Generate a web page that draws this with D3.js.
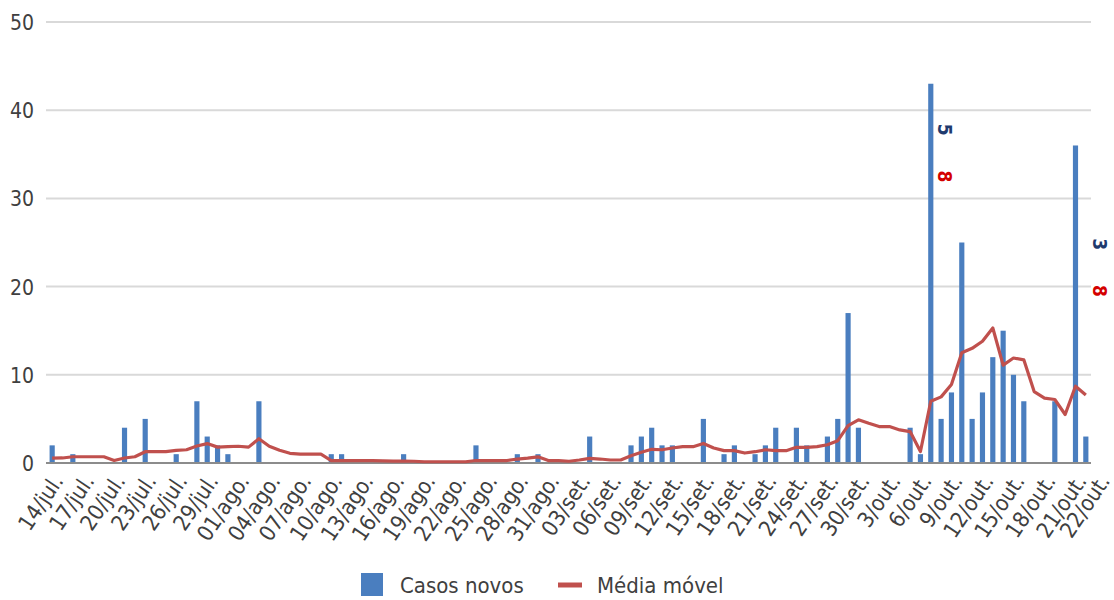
<!DOCTYPE html>
<html>
<head>
<meta charset="utf-8">
<script src="https://cdn.jsdelivr.net/npm/d3@7"></script>
<style>
  html, body { margin: 0; padding: 0; background: #ffffff; }
  svg { display: block; }
  text { font-family: "DejaVu Sans Condensed", "DejaVu Sans", sans-serif; }
</style>
</head>
<body>
<svg id="chart" width="1114" height="600"></svg>
<script>
// Daily new cases, 14/jul to 22/out (one value per day)
const casosNovos = [
  2, 0, 1, 0, 0, 0, 0, 4, 0, 5,
  0, 0, 1, 0, 7, 3, 2, 1, 0, 0,
  7, 0, 0, 0, 0, 0, 0, 1, 1, 0,
  0, 0, 0, 0, 1, 0, 0, 0, 0, 0,
  0, 2, 0, 0, 0, 1, 0, 1, 0, 0,
  0, 0, 3, 0, 0, 0, 2, 3, 4, 2,
  2, 0, 0, 5, 0, 1, 2, 0, 1, 2,
  4, 0, 4, 2, 0, 3, 5, 17, 4, 0,
  0, 0, 0, 4, 1, 43, 5, 8, 25, 5,
  8, 12, 15, 10, 7, 0, 0, 7, 0, 36,
  3
];

// Moving average, same days
const mediaMovel = [
  0.55, 0.57, 0.71, 0.71, 0.71, 0.71, 0.29, 0.57, 0.71, 1.28,
  1.28, 1.28, 1.43, 1.5, 1.93, 2.2, 1.8, 1.85, 1.9, 1.8,
  2.75, 1.9, 1.45, 1.1, 1.0, 1.0, 1.0, 0.28, 0.28, 0.28,
  0.28, 0.28, 0.25, 0.22, 0.22, 0.2, 0.14, 0.14, 0.14, 0.14,
  0.14, 0.28, 0.28, 0.28, 0.28, 0.45, 0.55, 0.7, 0.28, 0.28,
  0.2, 0.34, 0.53, 0.45, 0.34, 0.34, 0.83, 1.21, 1.55, 1.5,
  1.7, 1.85, 1.85, 2.22, 1.7, 1.4, 1.4, 1.13, 1.28, 1.5,
  1.4, 1.4, 1.78, 1.78, 1.85, 2.07, 2.53, 4.23, 4.9, 4.5,
  4.13, 4.13, 3.75, 3.56, 1.3, 7.0, 7.5, 8.9, 12.5, 13.0,
  13.8, 15.3, 11.1, 11.9, 11.7, 8.1, 7.35, 7.2, 5.5, 8.7,
  7.7
];

// Days with no report (gap in the bars)
const semDados = [79, 80, 81, 82];

// Category axis labels (every third day plus the last day)
const tickDays = [0, 3, 6, 9, 12, 15, 18, 21, 24, 27, 30, 33, 36, 39, 42, 45, 48,
  51, 54, 57, 60, 63, 66, 69, 72, 75, 78, 81, 84, 87, 90, 93, 96, 99, 100];
const tickLabels = ["14/jul.", "17/jul.", "20/jul.", "23/jul.", "26/jul.", "29/jul.",
  "01/ago.", "04/ago.", "07/ago.", "10/ago.", "13/ago.", "16/ago.", "19/ago.", "22/ago.",
  "25/ago.", "28/ago.", "31/ago.", "03/set.", "06/set.", "09/set.", "12/set.", "15/set.",
  "18/set.", "21/set.", "24/set.", "27/set.", "30/set.", "3/out.", "6/out.", "9/out.",
  "12/out.", "15/out.", "18/out.", "21/out.", "22/out."];

const yTicks = [0, 10, 20, 30, 40, 50];

// Stray rotated data labels near the two tallest bars
const notes = [
  { day: 85, value: 37.8, text: "5", color: "#1f3a6e" },
  { day: 85, value: 32.5, text: "8", color: "#d40000" },
  { day: 100, value: 24.8, text: "3", color: "#1f3a6e" },
  { day: 100, value: 19.5, text: "8", color: "#d40000" }
];

const seriesNames = ["Casos novos", "Média móvel"];

(function drawChart() {
  const svg = d3.select("#chart");
  const plotLeft = 47, plotRight = 1091, plotTop = 22, plotBottom = 463;

  const x = d3.scaleBand()
    .domain(d3.range(casosNovos.length))
    .range([plotLeft, plotRight])
    .paddingInner(0.5)
    .paddingOuter(0.25);
  const cx = d => x(d) + x.bandwidth() / 2;

  const y = d3.scaleLinear().domain([0, 50]).range([plotBottom, plotTop]);

  const textColor = "#404040";
  const fontStack = '"DejaVu Sans Condensed", "DejaVu Sans", sans-serif';

  // Horizontal gridlines
  svg.append("g")
    .selectAll("line")
    .data(yTicks.filter(t => t > 0))
    .join("line")
    .attr("x1", plotLeft - 1).attr("x2", plotRight)
    .attr("y1", d => y(d)).attr("y2", d => y(d))
    .attr("stroke", "#d9d9d9").attr("stroke-width", 2);

  // Y axis labels
  const yAxis = d3.axisLeft(y).tickValues(yTicks).tickSize(0).tickPadding(0);
  svg.append("g")
    .attr("transform", `translate(${plotLeft - 13},0)`)
    .call(yAxis)
    .call(g => g.select(".domain").remove())
    .call(g => g.selectAll("text")
      .attr("font-size", 21)
      .attr("fill", textColor)
      .attr("dy", "0.36em")
      .attr("font-family", fontStack));

  // Bars
  svg.append("g")
    .selectAll("rect")
    .data(casosNovos.map((v, i) => ({ i, v })).filter(d => d.v > 0 && !semDados.includes(d.i)))
    .join("rect")
    .attr("x", d => x(d.i))
    .attr("width", x.bandwidth())
    .attr("y", d => y(d.v))
    .attr("height", d => y(0) - y(d.v))
    .attr("fill", "#4a7ebf");

  // Baseline
  svg.append("line")
    .attr("x1", plotLeft - 1).attr("x2", plotRight)
    .attr("y1", y(0)).attr("y2", y(0))
    .attr("stroke", "#8c8c8c").attr("stroke-width", 2);

  // Moving average line
  const line = d3.line()
    .x((d, i) => cx(i))
    .y(d => y(d));
  svg.append("path")
    .datum(mediaMovel)
    .attr("d", line)
    .attr("fill", "none")
    .attr("stroke", "#c0504d")
    .attr("stroke-width", 3.2)
    .attr("stroke-linejoin", "round");

  // Category axis; the final label is nudged right so it clears its neighbour
  const xAxis = d3.axisBottom(x)
    .tickValues(tickDays)
    .tickFormat((d, i) => tickLabels[i])
    .tickSize(0)
    .tickPadding(0);
  const lastDay = tickDays[tickDays.length - 1];
  svg.append("g")
    .attr("transform", `translate(0,${plotBottom})`)
    .call(xAxis)
    .call(g => g.select(".domain").remove())
    .call(g => g.selectAll(".tick text")
      .attr("font-size", 22)
      .attr("fill", textColor)
      .attr("text-anchor", "end")
      .attr("dy", 0)
      .attr("transform", d => `translate(${d === lastDay ? 25 : 12},18) rotate(-56)`)
      .attr("font-family", fontStack));

  // Rotated data labels
  svg.append("g")
    .selectAll("text")
    .data(notes)
    .join("text")
    .attr("transform", d => `translate(${cx(d.day) + 7},${y(d.value)}) rotate(90)`)
    .attr("text-anchor", "middle")
    .attr("font-size", 19)
    .attr("font-weight", "bold")
    .attr("font-family", '"DejaVu Sans", sans-serif')
    .attr("fill", d => d.color)
    .text(d => d.text);

  // Legend
  const legend = svg.append("g").attr("font-size", 22).attr("fill", textColor)
    .attr("font-family", fontStack);
  legend.append("rect")
    .attr("x", 361).attr("y", 573).attr("width", 22).attr("height", 23)
    .attr("fill", "#4a7ebf");
  legend.append("text").attr("x", 400).attr("y", 593).text(seriesNames[0]);
  legend.append("line")
    .attr("x1", 558).attr("x2", 582).attr("y1", 585).attr("y2", 585)
    .attr("stroke", "#c0504d").attr("stroke-width", 5);
  legend.append("text").attr("x", 597).attr("y", 593).text(seriesNames[1]);
})();
</script>
</body>
</html>
